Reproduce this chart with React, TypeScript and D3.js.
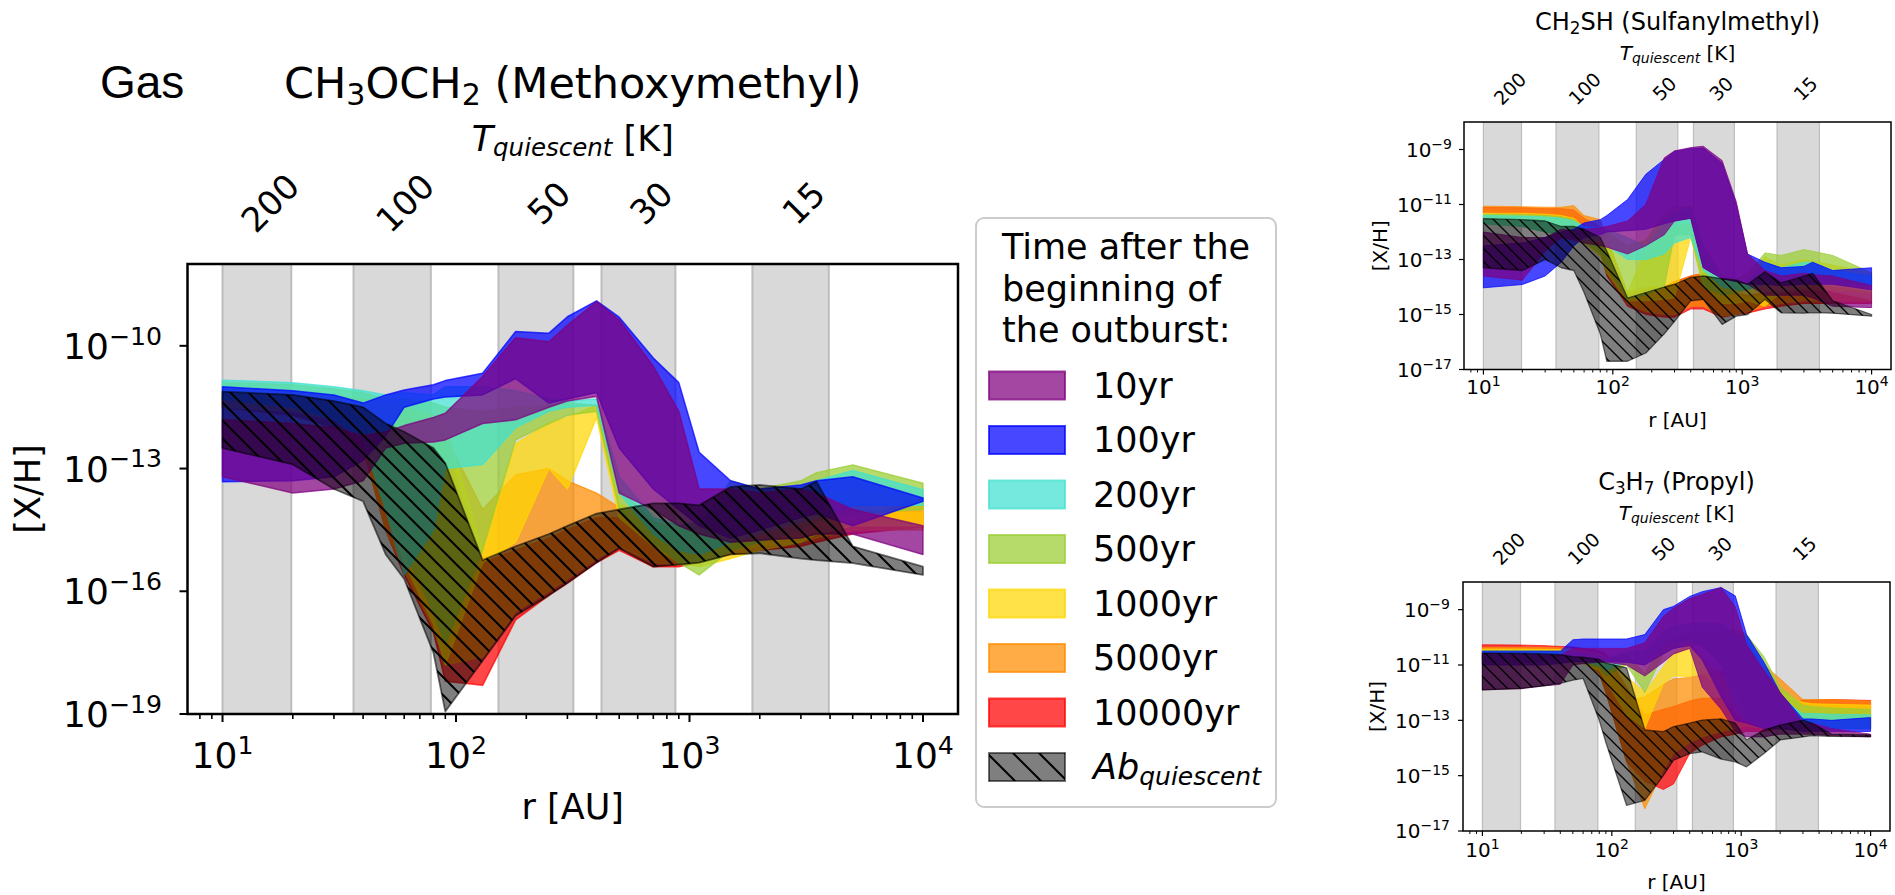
import React from 'react';
import * as d3 from 'd3';

const FONT = '"DejaVu Sans", sans-serif';

// radial grid [AU]
const R = [10, 20, 30, 40, 50, 60, 80, 90, 130, 180, 250, 300, 400, 500, 700, 900, 1100, 1500, 2000, 3000, 3500, 5000, 10000];

const SERIES_LABELS = ['10yr', '100yr', '200yr', '500yr', '1000yr', '5000yr', '10000yr'];
const SERIES_COLORS = ['#800080', '#0000ff', '#40e0d0', '#9acd32', '#ffd700', '#ff8c00', '#ff0000'];
const T_LABELS = ['200', '100', '50', '30', '15'];
const T_TICK_R = [16, 60.5, 250, 686, 3080];
const BANDS_R = [[10, 19.7], [36.4, 78], [152, 318], [420, 870], [1860, 3950]];
const X_TICK_EXPS = [1, 2, 3, 4];
const LEGEND_TITLE = ['Time after the', 'beginning of', 'the outburst:'];

// ---- CH3OCH2 (log10 abundances, lower / upper) ----
const m10Hi = [-11.8, -11.9, -12.0, -12.2, -12.1, -11.95, -11.75, -11.65, -10.75, -9.8, -9.9, -9.5, -8.92, -9.37, -10.5, -11.6, -13.5, -13.5, -13.6, -13.5, -13.6, -14.0, -14.4];
const m10Lo = [-13.2, -13.6, -13.5, -13.3, -12.5, -12.38, -12.35, -12.3, -11.9, -11.81, -11.5, -11.35, -11.24, -13.6, -14.0, -14.4, -14.6, -14.8, -14.75, -14.7, -14.6, -14.6, -15.1];
const m100Hi = [-11.0, -11.1, -11.2, -11.4, -11.2, -11.08, -10.95, -10.85, -10.67, -9.65, -9.69, -9.29, -8.9, -9.3, -10.3, -10.9, -12.6, -13.3, -13.5, -13.4, -13.3, -13.2, -13.72];
const m100Lo = [-13.32, -13.3, -13.2, -12.8, -12.2, -11.5, -11.3, -11.25, -11.2, -10.8, -11.4, -11.3, -11.14, -12.5, -13.5, -14.0, -14.4, -14.7, -14.5, -14.2, -14.1, -14.4, -13.8];
const m200Hi = [-10.84, -10.9, -11.0, -11.1, -11.2, -11.15, -11.2, -11.0, -11.0, -11.1, -11.3, -11.35, -11.3, -13.2, -14.2, -14.4, -14.3, -13.5, -13.6, -13.45, -13.3, -13.05, -13.52];
const m200Lo = [-11.3, -11.5, -11.8, -12.3, -14.0, -15.6, -14.5, -13.0, -12.9, -12.0, -11.6, -11.5, -11.45, -13.6, -14.6, -15.0, -15.1, -14.8, -14.6, -14.3, -14.2, -13.9, -13.9];
const m500Hi = [-10.9, -10.95, -11.05, -11.15, -11.3, -11.3, -11.4, -11.5, -11.6, -11.5, -11.45, -11.4, -11.45, -13.5, -14.3, -14.5, -14.4, -13.3, -13.5, -13.3, -13.1, -12.91, -13.36];
const m500Lo = [-11.3, -11.5, -11.8, -12.3, -14.0, -15.0, -16.5, -17.3, -15.0, -12.3, -11.9, -11.7, -11.6, -14.0, -14.8, -15.3, -15.6, -15.0, -14.8, -14.5, -14.3, -14.1, -14.0];
const m1000Hi = [-11.15, -11.2, -11.25, -11.3, -11.4, -11.5, -11.7, -11.9, -15.0, -12.4, -11.9, -11.75, -11.45, -13.85, -14.3, -14.4, -14.5, -14.0, -14.0, -13.8, -13.7, -13.5, -13.8];
const m1000Lo = [-11.5, -11.6, -11.8, -12.3, -14.0, -15.3, -16.8, -17.8, -15.3, -14.8, -13.0, -13.5, -11.75, -14.2, -14.9, -15.3, -15.4, -15.2, -15.0, -14.8, -14.6, -14.4, -14.4];
const m5000Hi = [-11.2, -11.25, -11.3, -11.35, -11.5, -11.6, -11.8, -12.2, -14.0, -13.16, -13.0, -13.3, -13.6, -13.95, -14.5, -14.7, -14.6, -14.4, -14.3, -14.2, -14.1, -14.0, -14.1];
const m5000Lo = [-11.5, -11.7, -12.0, -12.5, -14.5, -15.5, -16.9, -17.8, -17.6, -16.5, -16.0, -15.7, -15.2, -14.9, -15.3, -15.35, -15.25, -15.0, -14.9, -14.8, -14.7, -14.5, -14.5];
const m10000Hi = [-11.25, -11.3, -11.35, -11.4, -11.6, -11.7, -12.0, -12.4, -15.3, -15.0, -14.7, -14.5, -14.2, -14.2, -14.6, -14.8, -14.7, -14.5, -14.4, -14.3, -14.2, -14.3, -13.7];
const m10000Lo = [-11.5, -11.7, -12.0, -12.5, -14.5, -15.6, -17.0, -18.2, -18.3, -16.7, -16.1, -15.8, -15.3, -15.0, -15.4, -15.4, -15.3, -15.1, -15.0, -14.9, -14.8, -14.6, -14.42];
const mAbHi = [-11.12, -11.2, -11.35, -11.5, -11.9, -12.1, -12.5, -12.87, -15.24, -14.9, -14.6, -14.4, -14.1, -14.0, -13.85, -13.85, -13.9, -13.45, -13.4, -13.5, -13.32, -14.9, -15.4];
const mAbLo = [-12.5, -12.9, -13.5, -13.8, -15.1, -15.7, -17.5, -18.94, -17.7, -16.6, -16.1, -15.8, -15.3, -14.95, -15.4, -15.35, -15.3, -15.1, -15.07, -15.2, -15.24, -15.31, -15.6];

// ---- CH2SH ----
const s10Hi = [-12.0, -12.2, -12.2, -11.9, -11.95, -11.9, -11.85, -11.8, -11.6, -11.0, -9.3, -9.05, -8.93, -8.88, -9.4, -10.9, -12.8, -13.4, -13.6, -13.5, -13.55, -13.6, -13.95];
const s10Lo = [-13.6, -13.75, -12.7, -12.2, -12.3, -12.4, -12.5, -12.55, -12.8, -12.5, -12.1, -11.6, -11.5, -13.3, -13.7, -13.8, -13.9, -14.3, -14.3, -14.3, -14.4, -14.7, -14.75];
const s100Hi = [-12.5, -12.4, -12.2, -12.0, -11.9, -11.67, -11.55, -11.4, -10.82, -9.9, -9.36, -9.06, -8.97, -8.94, -9.5, -11.0, -12.8, -13.1, -13.3, -13.25, -13.1, -13.4, -13.3];
const s100Lo = [-14.03, -13.91, -13.6, -13.1, -12.5, -12.2, -12.1, -12.0, -11.95, -11.9, -11.7, -11.6, -11.5, -13.3, -13.7, -13.8, -13.9, -13.9, -13.95, -13.9, -13.9, -13.9, -14.1];
const s200Hi = [-11.4, -11.42, -11.45, -11.5, -11.6, -11.8, -11.85, -11.9, -12.2, -12.5, -11.6, -11.3, -11.1, -12.6, -13.7, -13.8, -13.8, -13.1, -13.3, -13.1, -13.1, -13.4, -13.6];
const s200Lo = [-11.7, -11.8, -12.0, -12.1, -12.2, -12.3, -12.3, -12.5, -13.0, -13.0, -12.8, -12.4, -12.2, -13.4, -14.0, -14.1, -14.1, -13.9, -13.9, -13.9, -13.9, -13.9, -13.95];
const s500Hi = [-11.35, -11.37, -11.4, -11.45, -11.55, -11.8, -11.95, -12.0, -12.5, -12.3, -11.3, -11.1, -11.06, -12.5, -13.6, -13.7, -13.5, -12.76, -12.85, -12.64, -12.7, -12.85, -13.48];
const s500Lo = [-11.7, -11.8, -12.0, -12.1, -12.2, -12.4, -12.8, -13.3, -14.45, -14.3, -14.0, -12.1, -12.1, -14.0, -14.3, -14.2, -14.1, -13.7, -13.8, -13.7, -13.7, -13.8, -13.9];
const s1000Hi = [-11.3, -11.32, -11.35, -11.4, -11.5, -11.8, -12.0, -12.3, -14.2, -12.6, -11.95, -11.8, -11.7, -12.6, -13.7, -13.9, -13.8, -12.9, -13.2, -13.0, -13.05, -13.2, -13.5];
const s1000Lo = [-11.7, -11.8, -12.0, -12.1, -12.2, -12.4, -12.9, -13.5, -14.5, -14.5, -14.45, -14.4, -12.2, -14.0, -14.6, -14.6, -14.5, -14.7, -14.2, -14.1, -14.1, -14.1, -14.2];
const s5000Hi = [-11.06, -11.08, -11.1, -11.1, -11.04, -11.4, -11.55, -12.2, -14.2, -14.0, -14.0, -13.8, -13.6, -13.5, -13.8, -14.2, -14.4, -14.3, -14.2, -14.0, -13.9, -14.0, -14.2];
const s5000Lo = [-11.25, -11.3, -11.35, -11.4, -11.5, -11.7, -12.6, -13.5, -14.6, -14.9, -15.0, -15.0, -14.7, -14.7, -15.06, -15.0, -14.9, -14.7, -14.6, -14.5, -14.5, -14.5, -14.5];
const s10000Hi = [-11.1, -11.12, -11.15, -11.15, -11.2, -11.5, -11.8, -12.3, -14.3, -14.1, -14.0, -13.8, -13.6, -13.5, -13.8, -14.2, -14.3, -14.2, -14.2, -14.1, -14.0, -14.2, -14.5];
const s10000Lo = [-11.3, -11.35, -11.4, -11.45, -11.55, -11.8, -12.7, -13.6, -14.7, -15.0, -15.1, -15.1, -14.8, -14.8, -15.1, -15.0, -14.95, -14.8, -14.7, -14.6, -14.6, -14.6, -14.6];
const sAbHi = [-11.51, -11.55, -11.6, -11.8, -11.8, -11.9, -12.2, -12.7, -14.4, -14.2, -14.0, -13.9, -13.65, -13.6, -13.7, -13.75, -13.9, -13.45, -13.85, -13.6, -13.5, -14.5, -15.0];
const sAbLo = [-13.3, -13.4, -13.0, -13.3, -13.4, -14.2, -15.7, -16.7, -16.7, -16.4, -15.7, -15.25, -14.5, -14.45, -15.36, -15.06, -15.0, -14.45, -14.94, -14.95, -14.93, -14.95, -15.06];

// ---- C3H7 ----
const p10Hi = [-10.6, -10.62, -10.65, -10.65, -10.4, -10.4, -10.4, -10.4, -10.4, -10.2, -9.25, -8.95, -8.6, -8.45, -8.2, -8.9, -10.25, -11.2, -12.0, -13.1, -13.1, -13.3, -13.5];
const p10Lo = [-11.9, -11.85, -11.75, -11.7, -11.0, -10.95, -10.9, -10.9, -11.0, -11.4, -10.9, -10.6, -10.4, -11.8, -12.6, -13.4, -13.6, -13.6, -13.5, -13.5, -13.5, -13.55, -13.6];
const p100Hi = [-10.5, -10.5, -10.5, -10.5, -10.09, -10.06, -10.06, -10.06, -10.06, -9.9, -9.0, -8.88, -8.52, -8.35, -8.2, -8.5, -9.9, -10.9, -12.0, -12.95, -12.95, -13.0, -12.9];
const p100Lo = [-11.0, -11.0, -11.0, -10.95, -10.88, -10.88, -10.88, -10.88, -10.9, -11.0, -10.6, -10.4, -10.3, -10.82, -12.15, -13.0, -13.1, -13.3, -13.3, -13.4, -13.4, -13.4, -13.4];
const p200Hi = [-10.52, -10.52, -10.52, -10.53, -10.55, -10.6, -10.7, -10.8, -10.5, -10.5, -9.8, -9.6, -9.5, -9.5, -9.5, -9.9, -10.0, -11.0, -12.2, -12.75, -12.75, -12.78, -12.8];
const p200Lo = [-10.9, -10.9, -10.9, -10.9, -10.9, -10.9, -11.0, -11.2, -10.9, -11.0, -10.3, -10.2, -10.1, -10.3, -11.0, -12.5, -13.0, -13.3, -13.3, -13.3, -13.3, -13.3, -13.3];
const p500Hi = [-10.47, -10.47, -10.48, -10.49, -10.5, -10.55, -10.65, -10.75, -10.6, -11.3, -10.2, -10.0, -9.8, -9.8, -9.8, -9.7, -9.9, -10.7, -11.8, -12.45, -12.5, -12.55, -12.6];
const p500Lo = [-10.9, -10.9, -10.9, -10.9, -10.9, -10.95, -11.1, -11.4, -11.0, -12.0, -10.6, -10.4, -10.2, -10.3, -11.0, -12.0, -12.8, -13.2, -13.3, -13.3, -13.3, -13.3, -13.3];
const p1000Hi = [-10.42, -10.42, -10.43, -10.44, -10.45, -10.5, -10.6, -10.7, -11.4, -12.0, -11.06, -10.57, -10.2, -10.7, -11.5, -11.5, -11.2, -11.3, -12.0, -12.35, -12.4, -12.42, -12.45];
const p1000Lo = [-10.9, -10.9, -10.9, -10.9, -10.9, -10.95, -11.2, -11.6, -12.8, -13.3, -11.7, -11.4, -11.42, -11.3, -11.8, -12.5, -12.8, -13.0, -13.2, -13.3, -13.3, -13.3, -13.3];
const p5000Hi = [-10.36, -10.36, -10.37, -10.38, -10.4, -10.45, -10.55, -10.65, -12.3, -12.15, -11.7, -11.5, -11.45, -11.35, -11.2, -11.6, -11.8, -11.0, -11.5, -12.25, -12.25, -12.25, -12.3];
const p5000Lo = [-10.85, -10.85, -10.85, -10.85, -10.87, -10.9, -11.3, -12.0, -14.5, -16.2, -14.8, -14.2, -13.8, -13.6, -13.4, -13.3, -13.2, -13.3, -13.3, -13.3, -13.3, -13.3, -13.3];
const p10000Hi = [-10.27, -10.28, -10.3, -10.33, -10.35, -10.4, -10.5, -10.6, -11.8, -12.8, -12.6, -12.5, -12.3, -12.2, -12.2, -12.8, -13.1, -12.6, -12.3, -12.27, -12.27, -12.25, -12.28];
const p10000Lo = [-10.8, -10.8, -10.8, -10.8, -10.82, -10.85, -11.3, -12.0, -14.5, -15.2, -15.5, -15.3, -14.2, -13.9, -13.6, -13.5, -13.4, -13.4, -13.3, -13.3, -13.3, -13.3, -13.3];
const pAbHi = [-10.57, -10.58, -10.6, -10.63, -10.7, -10.72, -10.8, -10.93, -11.1, -13.35, -13.41, -13.23, -13.1, -12.99, -12.95, -13.1, -13.7, -13.35, -13.17, -12.99, -13.1, -13.5, -13.53];
const pAbLo = [-11.9, -11.85, -11.75, -11.66, -11.55, -11.48, -13.0, -13.8, -16.07, -15.89, -15.0, -14.44, -14.2, -14.14, -14.4, -14.5, -14.68, -14.2, -13.71, -13.6, -13.55, -13.58, -13.59];

type Part = [string, boolean];

interface Cfg {
  id: string;
  x0: number; x1: number; y0: number; y1: number;
  yExp: [number, number];
  yTicks: number[];
  hi: number[][]; lo: number[][];
  abHi: number[]; abLo: number[];
  title: Part[];
  fs: { tick: number; label: number; title: number; tq: number; temp: number };
  titleY: number; tqY: number; tempY: number; xTickY: number; xLabelY: number;
  yLabelX: number; yTickX: number;
  spine: number; tickW: number; major: number; minor: number;
  hatch: number; hatchW: number; bandEdge: number; seriesEdge: number;
}

const mainCfg: Cfg = {
  id: 'm', x0: 187.5, x1: 958, y0: 264, y1: 714, yExp: [-19, -8], yTicks: [-10, -13, -16, -19],
  hi: [m10Hi, m100Hi, m200Hi, m500Hi, m1000Hi, m5000Hi, m10000Hi],
  lo: [m10Lo, m100Lo, m200Lo, m500Lo, m1000Lo, m5000Lo, m10000Lo],
  abHi: mAbHi, abLo: mAbLo,
  title: [['CH', false], ['3', true], ['OCH', false], ['2', true], [' (Methoxymethyl)', false]],
  fs: { tick: 36, label: 35, title: 43, tq: 35, temp: 34 },
  titleY: 98, tqY: 151, tempY: 203, xTickY: 768, xLabelY: 819, yLabelX: 28, yTickX: 162,
  spine: 2.5, tickW: 2, major: 8, minor: 5, hatch: 18, hatchW: 2, bandEdge: 2, seriesEdge: 1.5,
};

const topCfg: Cfg = {
  id: 's', x0: 1464, x1: 1891, y0: 122, y1: 369.5, yExp: [-17, -8], yTicks: [-9, -11, -13, -15, -17],
  hi: [s10Hi, s100Hi, s200Hi, s500Hi, s1000Hi, s5000Hi, s10000Hi],
  lo: [s10Lo, s100Lo, s200Lo, s500Lo, s1000Lo, s5000Lo, s10000Lo],
  abHi: sAbHi, abLo: sAbLo,
  title: [['CH', false], ['2', true], ['SH (Sulfanylmethyl)', false]],
  fs: { tick: 20, label: 20, title: 24, tq: 20, temp: 19 },
  titleY: 30, tqY: 60, tempY: 88.5, xTickY: 393.5, xLabelY: 427, yLabelX: 1380, yTickX: 1452,
  spine: 1.5, tickW: 1.2, major: 5, minor: 3, hatch: 13, hatchW: 1.3, bandEdge: 1.2, seriesEdge: 1,
};

const botCfg: Cfg = {
  id: 'p', x0: 1463, x1: 1890, y0: 582, y1: 831, yExp: [-17, -8], yTicks: [-9, -11, -13, -15, -17],
  hi: [p10Hi, p100Hi, p200Hi, p500Hi, p1000Hi, p5000Hi, p10000Hi],
  lo: [p10Lo, p100Lo, p200Lo, p500Lo, p1000Lo, p5000Lo, p10000Lo],
  abHi: pAbHi, abLo: pAbLo,
  title: [['C', false], ['3', true], ['H', false], ['7', true], [' (Propyl)', false]],
  fs: { tick: 20, label: 20, title: 24, tq: 20, temp: 19 },
  titleY: 490, tqY: 520, tempY: 548.5, xTickY: 857, xLabelY: 889, yLabelX: 1377, yTickX: 1450,
  spine: 1.5, tickW: 1.2, major: 5, minor: 3, hatch: 13, hatchW: 1.3, bandEdge: 1.2, seriesEdge: 1,
};

function fmtExp(e: number) {
  return e < 0 ? '\u2212' + String(-e) : String(e);
}

function Pow({ x, y, exp, f, anchor }: { x: number; y: number; exp: number; f: number; anchor: string }) {
  return (
    <text x={x} y={y} fontSize={f} textAnchor={anchor} fontFamily={FONT} fill="#000">
      10
      <tspan fontSize={f * 0.7} dy={-f * 0.4}>{fmtExp(exp)}</tspan>
    </text>
  );
}

function Title({ x, y, parts, f }: { x: number; y: number; parts: Part[]; f: number }) {
  let cur = 0;
  const nodes = parts.map(([t, sub], i) => {
    const target = sub ? f * 0.16 : 0;
    const dy = target - cur;
    cur = target;
    return (
      <tspan key={i} dy={dy} fontSize={sub ? f * 0.7 : f}>{t}</tspan>
    );
  });
  return (
    <text x={x} y={y} textAnchor="middle" fontFamily={FONT} fontSize={f} style={{ whiteSpace: 'pre' }} fill="#000">
      {nodes}
    </text>
  );
}

function Panel({ c }: { c: Cfg }) {
  const xS = d3.scaleLog().domain([10 ** 0.85, 10 ** 4.15]).range([c.x0, c.x1]);
  const yS = d3.scaleLog().domain([10 ** c.yExp[0], 10 ** c.yExp[1]]).range([c.y1, c.y0]);
  const mk = (lo: number[], hi: number[]) =>
    d3.area<number>()
      .x((_, i) => xS(R[i]))
      .y0((_, i) => yS(10 ** lo[i]))
      .y1((_, i) => yS(10 ** hi[i]))(R) || '';
  const cx = (c.x0 + c.x1) / 2;
  const cy = (c.y0 + c.y1) / 2;
  const order = [6, 5, 4, 3, 2, 1, 0];
  const minor: number[] = [];
  for (let e = 0; e <= 4; e++) {
    for (let k = 2; k <= 9; k++) {
      const v = k * 10 ** e;
      if (v > 10 ** 0.85 && v < 10 ** 4.15) minor.push(v);
    }
  }
  const abPath = mk(c.abLo, c.abHi);
  const s = c.hatch;
  return (
    <g>
      <defs>
        <clipPath id={`clip-${c.id}`}>
          <rect x={c.x0} y={c.y0} width={c.x1 - c.x0} height={c.y1 - c.y0} />
        </clipPath>
        <pattern id={`hatch-${c.id}`} patternUnits="userSpaceOnUse" width={s} height={s}>
          <path d={`M-2,-2L${s + 2},${s + 2}M${s - 2},-2L${s + 2},2M-2,${s - 2}L2,${s + 2}`} stroke="#000" strokeWidth={c.hatchW} />
        </pattern>
      </defs>
      <g clipPath={`url(#clip-${c.id})`}>
        {BANDS_R.map(([a, b], i) => (
          <rect key={i} x={xS(a)} y={c.y0 - 5} width={xS(b) - xS(a)} height={c.y1 - c.y0 + 10}
            fill="#d9d9d9" stroke="#bdbdbd" strokeWidth={c.bandEdge} />
        ))}
        {order.map((k) => (
          <path key={k} d={mk(c.lo[k], c.hi[k])} fill={SERIES_COLORS[k]} fillOpacity={0.72}
            stroke={SERIES_COLORS[k]} strokeOpacity={0.72} strokeWidth={c.seriesEdge} strokeLinejoin="round" />
        ))}
        <path d={abPath} fill="#000" fillOpacity={0.5} />
        <path d={abPath} fill={`url(#hatch-${c.id})`} />
        <path d={abPath} fill="none" stroke="#000" strokeOpacity={0.55} strokeWidth={c.seriesEdge + 0.3} strokeLinejoin="round" />
      </g>
      <rect x={c.x0} y={c.y0} width={c.x1 - c.x0} height={c.y1 - c.y0} fill="none" stroke="#000" strokeWidth={c.spine} />
      {X_TICK_EXPS.map((e) => (
        <g key={e}>
          <line x1={xS(10 ** e)} x2={xS(10 ** e)} y1={c.y1} y2={c.y1 + c.major} stroke="#000" strokeWidth={c.tickW} />
          <Pow x={xS(10 ** e)} y={c.xTickY} exp={e} f={c.fs.tick} anchor="middle" />
        </g>
      ))}
      {minor.map((v) => (
        <line key={v} x1={xS(v)} x2={xS(v)} y1={c.y1} y2={c.y1 + c.minor} stroke="#000" strokeWidth={c.tickW * 0.8} />
      ))}
      {c.yTicks.map((e) => (
        <g key={e}>
          <line x1={c.x0 - c.major} x2={c.x0} y1={yS(10 ** e)} y2={yS(10 ** e)} stroke="#000" strokeWidth={c.tickW} />
          <Pow x={c.yTickX} y={yS(10 ** e) + c.fs.tick * 0.365} exp={e} f={c.fs.tick} anchor="end" />
        </g>
      ))}
      <text x={cx} y={c.xLabelY} textAnchor="middle" fontFamily={FONT} fontSize={c.fs.label}>r [AU]</text>
      <text transform={`translate(${c.yLabelX},${cy}) rotate(-90)`} textAnchor="middle" dominantBaseline="central"
        fontFamily={FONT} fontSize={c.fs.label}>[X/H]</text>
      {T_TICK_R.map((r, i) => (
        <text key={i} transform={`translate(${xS(r)},${c.tempY}) rotate(-45)`} textAnchor="middle" dominantBaseline="central"
          fontFamily={FONT} fontSize={c.fs.temp}>{T_LABELS[i]}</text>
      ))}
      <text x={cx} y={c.tqY} textAnchor="middle" fontFamily={FONT} fontSize={c.fs.tq} style={{ whiteSpace: 'pre' }}>
        <tspan fontStyle="italic">T</tspan>
        <tspan fontStyle="italic" fontSize={c.fs.tq * 0.7} dy={c.fs.tq * 0.14}>quiescent</tspan>
        <tspan dy={-c.fs.tq * 0.14}> [K]</tspan>
      </text>
      <Title x={cx} y={c.titleY} parts={c.title} f={c.fs.title} />
    </g>
  );
}

function Legend() {
  const x = 976, y = 218, w = 300, h = 589;
  const patchX = 989, patchW = 76, patchH = 28, top0 = 371.5, step = 54.5;
  const labelX = 1093;
  return (
    <g fontFamily={FONT}>
      <defs>
        <pattern id="hatch-leg" patternUnits="userSpaceOnUse" width={26} height={26}>
          <path d="M-2,-2L28,28M24,-2L28,2M-2,24L2,28" stroke="#000" strokeWidth={2} />
        </pattern>
      </defs>
      <rect x={x} y={y} width={w} height={h} rx={8} fill="#fff" stroke="#cccccc" strokeWidth={2} />
      {LEGEND_TITLE.map((t, i) => (
        <text key={i} x={1002} y={259 + i * 41.5} fontSize={35}>{t}</text>
      ))}
      {SERIES_LABELS.map((lab, i) => (
        <g key={lab}>
          <rect x={patchX} y={top0 + i * step} width={patchW} height={patchH} fill={SERIES_COLORS[i]} fillOpacity={0.72}
            stroke={SERIES_COLORS[i]} strokeOpacity={0.72} strokeWidth={2} />
          <text x={labelX} y={top0 + i * step + 26} fontSize={35}>{lab}</text>
        </g>
      ))}
      <g>
        <rect x={patchX} y={top0 + 7 * step} width={patchW} height={patchH} fill="#000" fillOpacity={0.5} />
        <rect x={patchX} y={top0 + 7 * step} width={patchW} height={patchH} fill="url(#hatch-leg)" />
        <rect x={patchX} y={top0 + 7 * step} width={patchW} height={patchH} fill="none" stroke="#000" strokeOpacity={0.55} strokeWidth={2} />
        <text x={labelX} y={top0 + 7 * step + 26} fontSize={35} fontStyle="italic">
          Ab
          <tspan fontSize={25} dy={6}>quiescent</tspan>
        </text>
      </g>
    </g>
  );
}

export default function App() {
  return (
    <svg width={1895} height={895} style={{ position: 'absolute', left: 0, top: 0, background: '#fff' }}
      xmlns="http://www.w3.org/2000/svg">
      <rect x={0} y={0} width={1895} height={895} fill="#fff" />
      <text x={100} y={98} fontFamily='"Liberation Sans", Arial, sans-serif' fontSize={46}>Gas</text>
      <Panel c={mainCfg} />
      <Legend />
      <Panel c={topCfg} />
      <Panel c={botCfg} />
    </svg>
  );
}
